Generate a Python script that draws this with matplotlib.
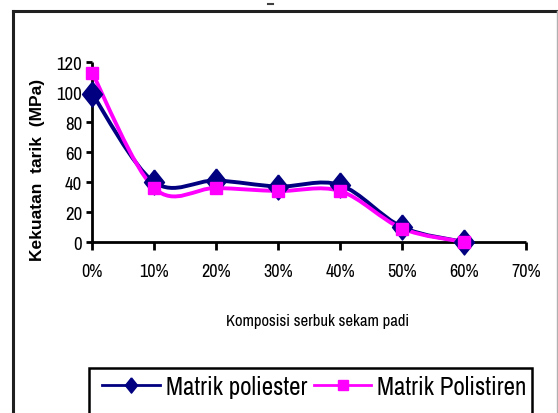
import matplotlib
matplotlib.use("Agg")
import matplotlib.pyplot as plt
from matplotlib.path import Path
from matplotlib.patches import PathPatch, Rectangle
from matplotlib.lines import Line2D
from matplotlib import font_manager

# Data: tensile strength vs. rice husk powder composition
komposisi = [0, 10, 20, 30, 40, 50, 60]          # %
poliester = [99, 40, 41, 37, 38, 10, 0]          # MPa
polistiren = [113, 36, 36, 34, 34, 9, 0]         # MPa
x_ticks = [0, 10, 20, 30, 40, 50, 60, 70]
y_ticks = [0, 20, 40, 60, 80, 100, 120]

# pick a condensed sans face if one is installed
narrow_file = None
for f in font_manager.fontManager.ttflist:
    low = f.fname.lower()
    if "narrow" in low and "bold" not in low and "italic" not in low:
        narrow_file = f.fname
        break
if narrow_file is None:
    for f in font_manager.fontManager.ttflist:
        low = f.fname.lower()
        if "condensed" in low and "bold" not in low and "oblique" not in low \
                and "italic" not in low and "sans" in low and "mono" not in low:
            narrow_file = f.fname
            break
if narrow_file:
    NF = font_manager.FontProperties(fname=narrow_file)
else:
    NF = font_manager.FontProperties(family="Liberation Sans", stretch="condensed")

plt.rcParams["font.family"] = ["Liberation Sans", "DejaVu Sans"]

W, H = 558, 414
fig = plt.figure(figsize=(W / 100, H / 100), dpi=100)
fig.patch.set_facecolor("white")


def fx(px):
    return px / W


def fy(py):
    return 1 - py / H


def nf(size):
    p = NF.copy()
    p.set_size(size)
    return p


# outer chart-area frame
fig.add_artist(Line2D([fx(13), fx(13)], [fy(12), 0], color="#202020", lw=2.2))
fig.add_artist(Line2D([fx(13), fx(557)], [fy(12), fy(12)], color="#202020", lw=2.2))
fig.add_artist(Line2D([fx(556.5), fx(556.5)], [fy(12), 0], color="#b0b0b0", lw=1.0))
fig.add_artist(Line2D([fx(268), fx(273)], [fy(5), fy(5)], color="#404040", lw=1.5))

ax = fig.add_axes([fx(92), fy(243), fx(526) - fx(92), fy(63) - fy(243)])
ax.set_xlim(0, 70)
ax.set_ylim(0, 120)
ax.patch.set_alpha(0)
for s in ("top", "right"):
    ax.spines[s].set_visible(False)
for s in ("left", "bottom"):
    ax.spines[s].set_linewidth(2.0)
    ax.spines[s].set_color("black")
    ax.spines[s].set_capstyle("butt")

ax.set_xticks(x_ticks)
ax.set_xticklabels([f"{v}%" for v in x_ticks], fontproperties=nf(13))
ax.set_yticks(y_ticks)
ax.set_yticklabels([str(v) for v in y_ticks], fontproperties=nf(13.5))
ax.tick_params(axis="x", direction="out", length=6, width=2, pad=9)
ax.tick_params(axis="y", direction="out", length=4, width=2, pad=3)

ax.set_xlabel("Komposisi serbuk sekam padi", fontproperties=nf(12))
ax.xaxis.set_label_coords(0.52, -0.395)
ax.set_ylabel("Kekuatan  tarik  (MPa)", fontsize=12.5, fontweight="bold")
ax.yaxis.set_label_coords(-0.108, 0.405)


def smooth_path(xs, ys):
    """Catmull-Rom style smoothed path built from cubic Bezier segments."""
    n = len(xs)
    verts = [(xs[0], ys[0])]
    codes = [Path.MOVETO]
    for i in range(n - 1):
        x0, y0 = (xs[i - 1], ys[i - 1]) if i > 0 else (xs[i], ys[i])
        x1, y1 = xs[i], ys[i]
        x2, y2 = xs[i + 1], ys[i + 1]
        x3, y3 = (xs[i + 2], ys[i + 2]) if i + 2 < n else (x2, y2)
        c1 = (x1 + (x2 - x0) / 6, y1 + (y2 - y0) / 6)
        c2 = (x2 - (x3 - x1) / 6, y2 - (y3 - y1) / 6)
        verts += [c1, c2, (x2, y2)]
        codes += [Path.CURVE4] * 3
    return Path(verts, codes)


navy = "#000080"
magenta = "#FF00FF"
tall_diamond = [(0, 1.25), (1, 0), (0, -1.25), (-1, 0), (0, 1.25)]

ax.add_patch(PathPatch(smooth_path(komposisi, poliester), fill=False,
                       edgecolor=navy, lw=2.8, zorder=3, clip_on=False))
ax.add_patch(PathPatch(smooth_path(komposisi, polistiren), fill=False,
                       edgecolor=magenta, lw=2.8, zorder=4, clip_on=False))
ax.plot(komposisi, poliester, linestyle="none", marker=tall_diamond,
        markersize=18, color=navy, zorder=5, clip_on=False)
ax.plot(komposisi, polistiren, linestyle="none", marker="s", markersize=9,
        color=magenta, zorder=6, clip_on=False)

# legend box runs past the lower edge of the figure
fig.add_artist(Rectangle((fx(89), -0.05), fx(532) - fx(89), fy(369) + 0.05,
                         fill=False, edgecolor="black", lw=1.8))
handles = [
    Line2D([], [], color=navy, lw=2, marker=tall_diamond, markersize=11),
    Line2D([], [], color=magenta, lw=2, marker="s", markersize=7),
]
leg = fig.legend(handles, ["Matrik poliester", "Matrik Polistiren"],
                 loc="upper left", bbox_to_anchor=(fx(102), fy(376)),
                 ncol=2, prop=nf(18), frameon=False,
                 handlelength=2.3, handletextpad=0.24,
                 columnspacing=0.28, borderpad=0.0, borderaxespad=0)

fig.savefig("out.png", dpi=100, facecolor="white")
